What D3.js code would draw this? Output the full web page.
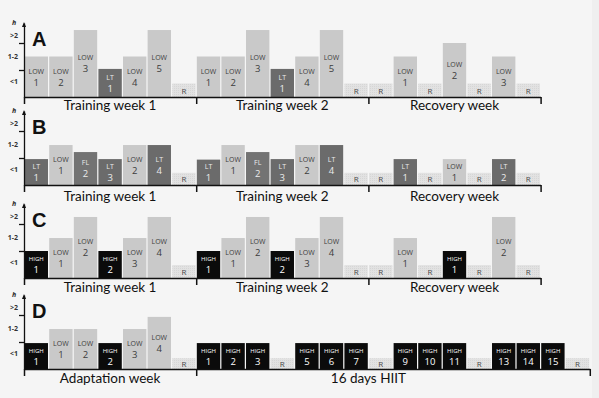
<!DOCTYPE html>
<html>
<head>
<meta charset="utf-8">
<script src="https://cdn.jsdelivr.net/npm/d3@7"></script>
<style>
  body { margin: 0; background: #f5f5f5; }
  svg { display: block; }
</style>
</head>
<body>
<div id="content"></div>
<script>
// sessions per day, label = "TYPE number" (R = rest day)
var sessionsA = ["LOW 1","LOW 2","LOW 3","LT 1","LOW 4","LOW 5","R",
                 "LOW 1","LOW 2","LOW 3","LT 1","LOW 4","LOW 5","R",
                 "R","LOW 1","R","LOW 2","R","LOW 3","R"];
var hoursA    = [1.5,1.5,2.48,1.04,1.5,2.48,0.5,
                 1.5,1.5,2.48,1.04,1.5,2.48,0.5,
                 0.5,1.5,0.5,2.0,0.5,1.5,0.5];

var sessionsB = ["LT 1","LOW 1","FL 2","LT 3","LOW 2","LT 4","R",
                 "LT 1","LOW 1","FL 2","LT 3","LOW 2","LT 4","R",
                 "R","LT 1","R","LOW 1","R","LT 2","R"];
var hoursB    = [0.96,1.48,1.22,0.96,1.48,1.48,0.45,
                 0.94,1.48,1.22,0.96,1.48,1.48,0.45,
                 0.45,0.96,0.45,0.96,0.45,0.96,0.45];

var sessionsC = ["HIGH 1","LOW 1","LOW 2","HIGH 2","LOW 3","LOW 4","R",
                 "HIGH 1","LOW 1","LOW 2","HIGH 2","LOW 3","LOW 4","R",
                 "R","LOW 1","R","HIGH 1","R","LOW 2","R"];
var hoursC    = [1.0,1.48,2.26,1.0,1.48,2.26,0.48,
                 1.0,1.48,2.26,1.0,1.48,2.26,0.48,
                 0.48,1.48,0.48,1.0,0.48,2.26,0.48];

var sessionsD = ["HIGH 1","LOW 1","LOW 2","HIGH 2","LOW 3","LOW 4","R",
                 "HIGH 1","HIGH 2","HIGH 3","R","HIGH 5","HIGH 6","HIGH 7","R",
                 "HIGH 9","HIGH 10","HIGH 11","R","HIGH 13","HIGH 14","HIGH 15","R"];
var hoursD    = [0.96,1.48,1.48,0.96,1.48,1.93,0.4,
                 0.96,0.96,0.96,0.4,0.96,0.96,0.96,0.4,
                 0.96,0.96,0.96,0.4,0.96,0.96,0.96,0.4];

var weeksABC   = ["Training week 1","Training week 2","Recovery week"];
var weekDaysABC = [7,7,7];
var weeksD     = ["Adaptation week","16 days HIIT"];
var weekDaysD  = [7,16];

var yLabels = ["<1","1-2",">2"];
var yLabelAt = [0.6,1.5,2.3];

var colors = {LOW: "#c9c9c9", LT: "#6b6b6b", FL: "#737373", HIGH: "#0b0b0b", R: "#e2e2e2"};
var textColors = {LOW: "#3c3c3c", LT: "#ececec", FL: "#ececec", HIGH: "#ffffff", R: "#4a4a4a"};

var panels = [
  {letter: "A", sessions: sessionsA, hours: hoursA, weeks: weeksABC, days: weekDaysABC, base: 97,  labelDy: 13},
  {letter: "B", sessions: sessionsB, hours: hoursB, weeks: weeksABC, days: weekDaysABC, base: 185, labelDy: 15.5},
  {letter: "C", sessions: sessionsC, hours: hoursC, weeks: weeksABC, days: weekDaysABC, base: 278, labelDy: 14},
  {letter: "D", sessions: sessionsD, hours: hoursD, weeks: weeksD,   days: weekDaysD,   base: 369, labelDy: 13.5}
];

var W = 599, H = 398;
var x0 = 24, step = 24.6, unit = 27;

var svg = d3.select("#content").append("svg")
    .attr("width", W)
    .attr("height", H);

svg.append("rect").attr("width", W).attr("height", H).attr("fill", "#f5f5f5");
svg.append("rect").attr("x", 592).attr("width", 7).attr("height", H).attr("fill", "#efefef");

// dotted fill for rest days
var pat = svg.append("defs").append("pattern")
    .attr("id", "rest")
    .attr("width", 2).attr("height", 2)
    .attr("patternUnits", "userSpaceOnUse");
pat.append("rect").attr("width", 2).attr("height", 2).attr("fill", colors.R);
pat.append("rect").attr("width", 1).attr("height", 1).attr("fill", "#d6d6d6");

panels.forEach(function(p) {
  var n = p.sessions.length;
  var days = p.sessions.map(function(s, i) {
    var parts = s.split(" ");
    return {i: i, type: parts[0], num: parts[1] || "", h: p.hours[i]};
  });

  var xs = d3.scaleLinear().domain([0, n]).range([x0, x0 + n * step]);
  var xb = d3.scaleBand().domain(d3.range(n))
      .range([x0, x0 + n * step])
      .paddingInner(0.05).paddingOuter(0.025);
  var y = d3.scaleLinear().domain([0, 74 / unit]).range([p.base, p.base - 74]);

  var g = svg.append("g").attr("class", "panel");

  // bars
  var bar = g.selectAll("g.day").data(days).enter().append("g").attr("class", "day");
  bar.append("rect")
      .attr("x", function(d) { return xb(d.i); })
      .attr("y", function(d) { return y(d.h); })
      .attr("width", xb.bandwidth())
      .attr("height", function(d) { return y(0) - y(d.h); })
      .attr("fill", function(d) { return d.type == "R" ? "url(#rest)" : colors[d.type]; });

  bar.append("text")
      .attr("x", function(d) { return xb(d.i) + xb.bandwidth() / 2; })
      .attr("y", function(d) { return (y(d.h) + y(0)) / 2 + (d.type == "R" ? 0.5 : -5.5); })
      .attr("dy", "0.35em")
      .attr("text-anchor", "middle")
      .style("font-family", "Open Sans, sans-serif")
      .style("font-size", function(d) { return d.type == "HIGH" ? "6px" : d.type == "R" ? "8px" : "7px"; })
      .attr("fill", function(d) { return textColors[d.type]; })
      .text(function(d) { return d.type; });

  bar.filter(function(d) { return d.num != ""; }).append("text")
      .attr("x", function(d) { return xb(d.i) + xb.bandwidth() / 2; })
      .attr("y", function(d) { return (y(d.h) + y(0)) / 2 + 5.5; })
      .attr("dy", "0.35em")
      .attr("text-anchor", "middle")
      .style("font-family", "Open Sans, sans-serif")
      .style("font-size", "9.5px")
      .attr("fill", function(d) { return textColors[d.type]; })
      .text(function(d) { return d.num; });

  // week boundaries
  var bounds = [0];
  p.days.forEach(function(k, i) { bounds.push(bounds[i] + k); });

  var xAxis = d3.axisBottom(xs).tickValues(bounds).tickSize(7).tickSizeOuter(0).tickFormat("");
  g.append("g")
      .attr("class", "x axis")
      .attr("transform", "translate(0," + p.base + ")")
      .call(xAxis)
      .call(function(a) { a.selectAll("path, line").attr("stroke", "#111").attr("stroke-width", 1.5); });

  var yAxis = d3.axisLeft(y).tickValues([1, 2]).tickSize(5).tickSizeOuter(0).tickFormat("");
  g.append("g")
      .attr("class", "y axis")
      .attr("transform", "translate(" + x0 + ",0)")
      .call(yAxis)
      .call(function(a) { a.selectAll("path, line").attr("stroke", "#111").attr("stroke-width", 1.3); });

  var yLab = d3.axisLeft(y).tickValues(yLabelAt).tickSize(0).tickPadding(6)
      .tickFormat(function(d, i) { return yLabels[i]; });
  g.append("g")
      .attr("transform", "translate(" + x0 + ",0)")
      .call(yLab)
      .call(function(a) {
        a.select(".domain").remove();
        a.selectAll("text").style("font-family", "Open Sans, sans-serif")
          .style("font-size", "7px").style("font-weight", "bold").attr("fill", "#333");
      });

  // arrow tip and unit
  var top = y.range()[1];
  g.append("path")
      .attr("d", "M" + (x0 - 2) + "," + (top + 4) + "L" + x0 + "," + (top - 1) + "L" + (x0 + 2) + "," + (top + 4) + "Z")
      .attr("fill", "#111");
  g.append("text")
      .attr("x", 14)
      .attr("y", top + 2)
      .attr("text-anchor", "middle")
      .style("font-family", "Open Sans, sans-serif")
      .style("font-size", "7px")
      .style("font-style", "italic")
      .style("font-weight", "bold")
      .attr("fill", "#333")
      .text("h");

  // panel letter
  g.append("text")
      .attr("x", 32)
      .attr("y", p.base - 51)
      .style("font-family", "Liberation Sans, Arial, sans-serif")
      .style("font-size", "20px")
      .style("font-weight", "bold")
      .attr("fill", "#111")
      .text(p.letter);

  // week labels
  g.selectAll("text.week").data(p.weeks).enter().append("text")
      .attr("class", "week")
      .attr("x", function(d, i) {
        // the HIIT label sits left of the block centre in the original
        var mid = p.days[i] > 7 ? bounds[i] + 7 : bounds[i] + p.days[i] / 2;
        return xs(mid);
      })
      .attr("y", p.base + p.labelDy)
      .attr("text-anchor", "middle")
      .style("font-family", "Lato, sans-serif")
      .style("font-size", "13.5px")
      .attr("fill", "#111")
      .text(function(d) { return d; });
});
</script>
</body>
</html>
